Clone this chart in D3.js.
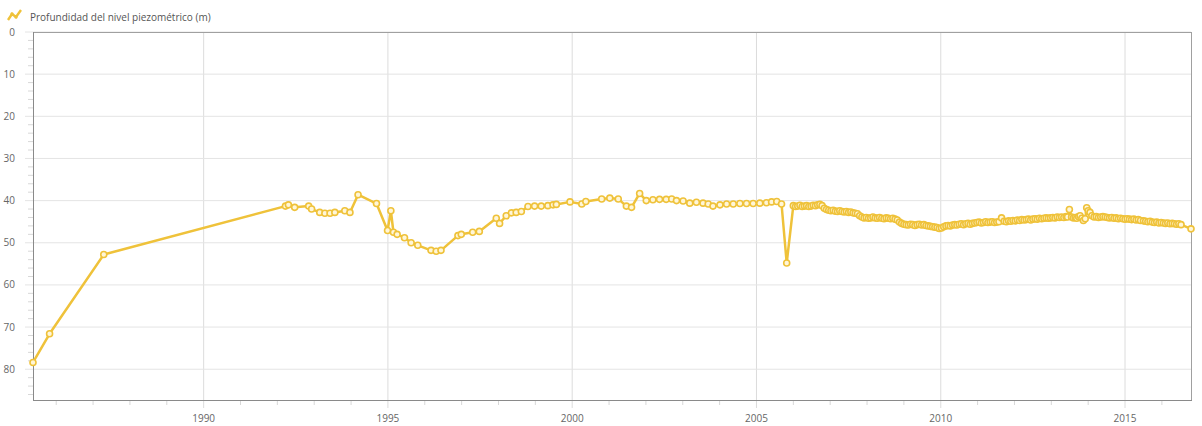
<!DOCTYPE html>
<html>
<head>
<meta charset="utf-8">
<script src="https://cdn.jsdelivr.net/npm/d3@7/dist/d3.min.js"></script>
<style>
  html, body { margin: 0; padding: 0; background: #fff; }
  svg { display: block; }
  text { font-family: "Open Sans", "Noto Sans", sans-serif; }
</style>
</head>
<body>
<svg id="chart" width="1202" height="426"></svg>
<script>
// ---- Data (decimal year, depth in m) ----
const seriesName = "Profundidad del nivel piezométrico (m)";
const years = [
  1985.37, 1985.82, 1987.29,
  1992.22, 1992.30, 1992.47, 1992.85, 1992.93, 1993.15, 1993.29, 1993.43, 1993.56, 1993.83, 1993.97,
  1994.19, 1994.69, 1994.99, 1995.08, 1995.15, 1995.25, 1995.45, 1995.63, 1995.81,
  1996.17, 1996.31, 1996.44, 1996.90, 1996.99, 1997.30, 1997.48, 1997.94, 1998.03,
  1998.21, 1998.35, 1998.48, 1998.62, 1998.80, 1998.98, 1999.16, 1999.34, 1999.48, 1999.57,
  1999.94, 2000.26, 2000.37, 2000.80, 2001.02, 2001.25, 2001.47, 2001.61, 2001.83,
  2002.01, 2002.19, 2002.37, 2002.55, 2002.70, 2002.83, 2003.01, 2003.19, 2003.37, 2003.55,
  2003.69, 2003.82, 2004.01, 2004.19, 2004.37, 2004.55, 2004.73, 2004.91, 2005.09, 2005.27,
  2005.41, 2005.55, 2005.68, 2005.82,
  2006.00, 2006.06, 2006.12, 2006.18, 2006.24, 2006.30, 2006.36, 2006.42, 2006.48, 2006.54, 2006.60, 2006.66, 2006.72, 2006.78,
  2006.84, 2006.90, 2006.96, 2007.02, 2007.08, 2007.14, 2007.20, 2007.26, 2007.32, 2007.38, 2007.44, 2007.50, 2007.56, 2007.62, 2007.68, 2007.74,
  2007.80, 2007.86, 2007.92, 2007.98, 2008.04, 2008.10, 2008.16, 2008.22, 2008.28, 2008.34, 2008.40, 2008.46, 2008.52, 2008.58, 2008.64, 2008.70, 2008.76, 2008.82,
  2008.88, 2008.94, 2009.00, 2009.06, 2009.12, 2009.18, 2009.24, 2009.30, 2009.36, 2009.42, 2009.48, 2009.54, 2009.60, 2009.66, 2009.72, 2009.78, 2009.84,
  2009.90, 2009.96, 2010.02,
  2010.08, 2010.14, 2010.20, 2010.26, 2010.32, 2010.38, 2010.44, 2010.50, 2010.56, 2010.62, 2010.68, 2010.74, 2010.80, 2010.86, 2010.92,
  2010.98, 2011.04, 2011.10, 2011.16, 2011.22, 2011.28, 2011.34, 2011.40, 2011.46, 2011.52, 2011.58, 2011.65,
  2011.72, 2011.78, 2011.84, 2011.90, 2011.96, 2012.02, 2012.08, 2012.14, 2012.20, 2012.26, 2012.32, 2012.38, 2012.44, 2012.50, 2012.56, 2012.62, 2012.68, 2012.74, 2012.80, 2012.86, 2012.92, 2012.98,
  2013.04, 2013.10, 2013.16, 2013.22, 2013.28, 2013.34, 2013.40, 2013.44,
  2013.49, 2013.55, 2013.60, 2013.65, 2013.69, 2013.74, 2013.78, 2013.83, 2013.87, 2013.92, 2013.96, 2014.00, 2014.05, 2014.10,
  2014.16, 2014.22, 2014.28, 2014.34, 2014.40, 2014.46, 2014.52,
  2014.58, 2014.64, 2014.70, 2014.76, 2014.82, 2014.88, 2014.94, 2015.00, 2015.06, 2015.12, 2015.18, 2015.24, 2015.30, 2015.36, 2015.42,
  2015.50, 2015.56, 2015.62, 2015.68, 2015.74, 2015.80, 2015.86, 2015.92, 2015.98, 2016.04, 2016.10, 2016.16, 2016.22, 2016.28, 2016.34, 2016.40, 2016.46, 2016.52,
  2016.79
];
const depths = [
  78.4, 71.6, 52.8,
  41.3, 41.0, 41.6, 41.3, 42.0, 42.8, 43.0, 43.0, 42.8, 42.4, 42.8,
  38.6, 40.7, 47.1, 42.4, 47.5, 48.0, 48.8, 50.0, 50.6,
  51.8, 52.0, 51.8, 48.3, 48.0, 47.5, 47.3, 44.2, 45.4,
  43.6, 42.9, 42.8, 42.6, 41.4, 41.3, 41.3, 41.2, 41.0, 40.9,
  40.3, 40.8, 40.2, 39.6, 39.4, 39.6, 41.3, 41.6, 38.3,
  40.0, 39.8, 39.7, 39.7, 39.6, 40.0, 40.1, 40.6, 40.4, 40.6,
  40.8, 41.3, 41.0, 40.8, 40.8, 40.7, 40.7, 40.7, 40.6, 40.5,
  40.3, 40.2, 40.8, 54.8,
  41.2, 41.4, 41.3, 41.1, 41.4, 41.3, 41.2, 41.4, 41.3, 41.1, 41.2, 41.0, 40.9, 41.2,
  41.8, 42.1, 42.3, 42.4, 42.3, 42.5, 42.6, 42.4, 42.6, 42.7, 42.6, 42.8, 42.7, 42.9, 43.0, 43.1,
  43.6, 43.9, 44.1, 44.0, 44.2, 44.1, 43.9, 44.1, 44.2, 44.0, 44.2, 44.3, 44.1, 44.2, 44.3, 44.2, 44.4, 44.6,
  45.1, 45.4, 45.6, 45.7, 45.8, 45.6, 45.7, 45.9, 45.7, 45.6, 45.8, 45.7, 45.9, 46.0, 46.1, 46.2, 46.3,
  46.4, 46.6, 46.5,
  46.2, 46.0, 45.9, 46.0, 45.8, 45.7, 45.8, 45.6, 45.5, 45.7, 45.5, 45.4, 45.6, 45.4, 45.3,
  45.2, 45.1, 45.3, 45.2, 45.0, 45.2, 45.1, 45.0, 45.2, 45.1, 45.0, 44.1,
  44.9, 45.0, 44.8, 44.9, 44.7, 44.8, 44.6, 44.7, 44.5, 44.6, 44.5, 44.4, 44.6, 44.4, 44.3, 44.4, 44.2, 44.3, 44.2, 44.1, 44.2, 44.1,
  44.0, 44.1, 43.9, 44.0, 43.9, 44.0, 43.8, 43.9,
  42.1, 43.9, 44.1, 44.0, 44.2, 43.8, 43.6, 44.2, 44.7, 44.3, 41.7, 42.4, 42.8, 43.6,
  43.9, 43.8, 44.0, 43.9, 43.8, 43.9, 44.0,
  44.1, 44.0, 44.2, 44.1, 44.3, 44.2, 44.3, 44.4, 44.3, 44.4, 44.5, 44.4, 44.6, 44.5, 44.7,
  44.8, 44.9, 45.0, 44.9, 45.1, 45.2, 45.1, 45.3, 45.2, 45.3, 45.4, 45.3, 45.5, 45.4, 45.5, 45.6, 45.5, 45.7,
  46.7
];
const xTickLabels = [1990, 1995, 2000, 2005, 2010, 2015];
const yTickLabels = [0, 10, 20, 30, 40, 50, 60, 70, 80];

// ---- Layout ----
const svg = d3.select("#chart");
const L = 33, R = 1191, T = 32, B = 400;
const lineColor = "#efc23a";

const x = d3.scaleLinear().domain(d3.extent(years)).range([L, R]);
const y = d3.scaleLinear().domain([0, 87.3]).range([T, B]);

const data = years.map((yr, i) => ({ yr, v: depths[i] }));

// grid
const grid = svg.append("g");
grid.selectAll(".vg").data(xTickLabels).enter().append("line")
  .attr("x1", d => x(d)).attr("x2", d => x(d))
  .attr("y1", T).attr("y2", B + 8)
  .attr("stroke", "#dcdcdc").attr("stroke-width", 1);
grid.selectAll(".hg").data(yTickLabels).enter().append("line")
  .attr("x1", L - 8).attr("x2", R)
  .attr("y1", d => y(d)).attr("y2", d => y(d))
  .attr("stroke", "#e4e4e4").attr("stroke-width", 1);

// minor ticks
const minorX = d3.range(1986, 2017).filter(d => d % 5 !== 0);
svg.append("g").selectAll("line").data(minorX).enter().append("line")
  .attr("x1", d => x(d)).attr("x2", d => x(d))
  .attr("y1", B).attr("y2", B + 5)
  .attr("stroke", "#d8d8d8");
const minorY = d3.range(2, 88, 2).filter(d => d % 10 !== 0);
svg.append("g").selectAll("line").data(minorY).enter().append("line")
  .attr("x1", L - 5).attr("x2", L)
  .attr("y1", d => y(d)).attr("y2", d => y(d))
  .attr("stroke", "#d8d8d8");

// border
svg.append("rect").attr("x", L + 0.5).attr("y", T + 0.5)
  .attr("width", R - L).attr("height", B - T)
  .attr("fill", "none").attr("stroke", "#a0a0a0").attr("stroke-width", 1);
svg.append("line").attr("x1", L + 0.5).attr("x2", L + 0.5).attr("y1", T).attr("y2", B + 1)
  .attr("stroke", "#8a8a8a");
svg.append("line").attr("x1", L).attr("x2", R + 1).attr("y1", B + 0.5).attr("y2", B + 0.5)
  .attr("stroke", "#8a8a8a");

// axis labels
svg.append("g").selectAll("text").data(xTickLabels).enter().append("text")
  .attr("x", d => x(d)).attr("y", 422)
  .attr("text-anchor", "middle").attr("font-size", 10).attr("fill", "#666")
  .text(d => d);
svg.append("g").selectAll("text").data(yTickLabels).enter().append("text")
  .attr("x", 15).attr("y", d => y(d)).attr("dy", "0.35em")
  .attr("text-anchor", "end").attr("font-size", 10).attr("fill", "#666")
  .text(d => d);

// line
const line = d3.line().x(d => x(d.yr)).y(d => y(d.v));
svg.append("path").datum(data).attr("d", line)
  .attr("fill", "none").attr("stroke", lineColor).attr("stroke-width", 2.5)
  .attr("stroke-linejoin", "round");

// markers
svg.append("g").selectAll("circle").data(data).enter().append("circle")
  .attr("cx", d => x(d.yr)).attr("cy", d => y(d.v)).attr("r", 3)
  .attr("fill", "#fff6d8").attr("stroke", lineColor).attr("stroke-width", 1.6);

// legend
const lg = svg.append("g");
lg.append("path").attr("d", "M8,20 L12,14 L16,17 L21,10")
  .attr("fill", "none").attr("stroke", lineColor).attr("stroke-width", 2.4);
[[12,14],[16,17]].forEach(p => lg.append("circle").attr("cx", p[0]).attr("cy", p[1]).attr("r", 1.7).attr("fill", lineColor));
lg.append("text").attr("x", 30).attr("y", 17).attr("dy", "0.35em")
  .attr("font-size", 10).attr("fill", "#555").text(seriesName);
</script>
</body>
</html>
